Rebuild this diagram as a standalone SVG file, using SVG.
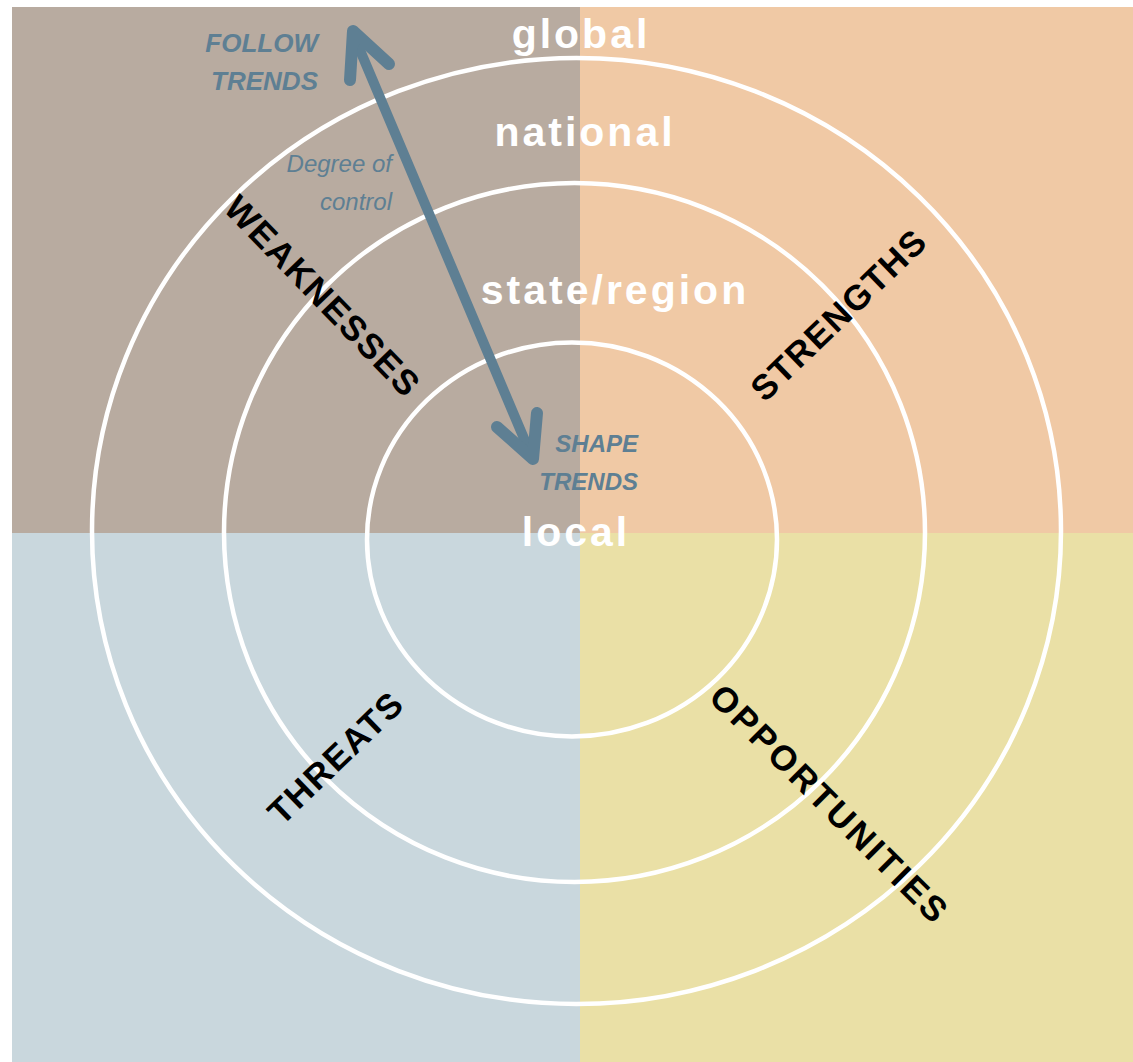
<svg xmlns="http://www.w3.org/2000/svg" width="1133" height="1062" viewBox="0 0 1133 1062">
<style>
.ring{fill:none;stroke:#ffffff;stroke-width:4.5}
.scope{font-family:"Liberation Sans",Arial,sans-serif;font-weight:bold;fill:#ffffff;font-size:41px;text-anchor:middle;letter-spacing:3px}
.quad{font-family:"Liberation Sans",Arial,sans-serif;font-weight:bold;fill:#000000;font-size:35px;text-anchor:middle;letter-spacing:1.5px}
.trend{font-family:"Liberation Sans",Arial,sans-serif;font-weight:bold;font-style:italic;fill:#5e7f93;text-anchor:end}
.ctrl{font-family:"Liberation Sans",Arial,sans-serif;font-style:italic;fill:#5e7f93;font-size:24px;text-anchor:end}
.arr{fill:none;stroke:#5e7f93;stroke-linecap:round;stroke-linejoin:round}
</style>
<rect width="1133" height="1062" fill="#ffffff"/>
<g id="quadrants">
<rect x="12" y="7" width="568" height="526" fill="#b8aba0"/>
<rect x="580" y="7" width="553" height="526" fill="#f0c9a5"/>
<rect x="12" y="533" width="568" height="529" fill="#c9d7dd"/>
<rect x="580" y="533" width="553" height="529" fill="#eae0a6"/>
</g>
<g id="rings">
<ellipse id="ring-global" class="ring" cx="576.5" cy="531" rx="484.5" ry="473"/>
<ellipse id="ring-national" class="ring" cx="574.5" cy="532.5" rx="350.5" ry="349.5"/>
<ellipse id="ring-state" class="ring" cx="572" cy="539.5" rx="205" ry="197"/>
</g>
<g id="scope-labels">
<text id="global" class="scope" x="581" y="48">global</text>
<text id="national" class="scope" x="585" y="146">national</text>
<text id="state-region" class="scope" x="615" y="304">state/region</text>
<text id="local" class="scope" x="576" y="546">local</text>
</g>
<g id="weaknesses"><text class="quad" transform="translate(323,296) rotate(46)" y="12.5">WEAKNESSES</text></g>
<g id="strengths"><text class="quad" transform="translate(838.5,314.5) rotate(-44)" y="12.5">STRENGTHS</text></g>
<g id="threats"><text class="quad" transform="translate(335.5,757.5) rotate(-44)" y="12.5">THREATS</text></g>
<g id="opportunities"><text class="quad" transform="translate(830,804) rotate(45)" y="12.5" style="letter-spacing:2.8px">OPPORTUNITIES</text></g>
<g id="connectors">
<path class="arr" stroke-width="10" d="M354,36 L531,455"/>
<path class="arr" stroke-width="12" d="M350,80 L353,31 L389,64"/>
<path class="arr" stroke-width="12" d="M537,413 L533,459 L497,427"/>
</g>
<g id="trend-labels">
<text class="trend" font-size="26" x="318" y="52">FOLLOW</text>
<text class="trend" font-size="26" x="318" y="90">TRENDS</text>
<text class="ctrl" x="392" y="172">Degree of</text>
<text class="ctrl" x="392" y="210">control</text>
<text class="trend" font-size="24" x="638" y="452">SHAPE</text>
<text class="trend" font-size="24" x="638" y="490">TRENDS</text>
</g>
</svg>
